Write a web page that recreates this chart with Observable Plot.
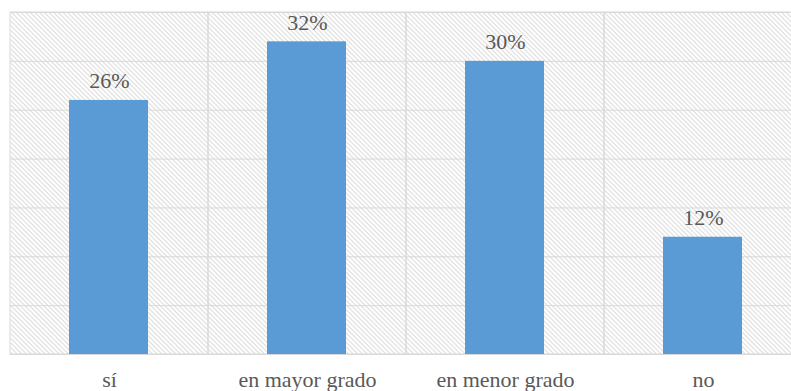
<!DOCTYPE html>
<html>
<head>
<meta charset="utf-8">
<script src="https://cdn.jsdelivr.net/npm/d3@7"></script>
<script src="https://cdn.jsdelivr.net/npm/@observablehq/plot@0.6"></script>
<style>
  html, body { margin: 0; padding: 0; background: #fff; overflow: hidden; }
  #chart svg { display: block; }
</style>
</head>
<body>
<div id="chart"></div>
<script>
// Respuestas por categoría (porcentaje)
const categories = ["sí", "en mayor grado", "en menor grado", "no"];
const values = [26, 32, 30, 12];
const yTicks = [0, 5, 10, 15, 20, 25, 30, 35];

const data = categories.map((c, i) => ({categoria: c, valor: values[i]}));

const chart = Plot.plot({
  width: 791,
  height: 391,
  marginTop: 12,
  marginBottom: 37,
  marginLeft: 10,
  marginRight: 0,
  style: {fontFamily: "'Liberation Serif', 'Times New Roman', serif", fontSize: "22px", color: "#595959", background: "#fff"},
  x: {domain: categories, range: [10, 802], padding: 0},
  y: {domain: [0, 35], axis: null},
  marks: [
    Plot.frame({fill: "url(#rayado)", stroke: null}),
    Plot.gridY(yTicks, {stroke: "#d9d9d9", strokeOpacity: 1, strokeWidth: 1}),
    Plot.cell(categories, {x: d => d, fill: "none", stroke: "#d9d9d9", strokeWidth: 1}),
    Plot.barY(data, {x: "categoria", y: "valor", fill: "#5B9BD5", insetLeft: 59, insetRight: 60}),
    Plot.text(data, {
      x: "categoria", y: "valor",
      text: d => `${d.valor}%`,
      lineAnchor: "bottom", dy: -12,
      fill: "#595959", fontSize: 22
    }),
    Plot.axisX({tickSize: 0, tickPadding: 17, fontSize: 22, fill: "#595959", label: null})
  ]
});

// Diagonal hatching for the plot background
chart.insertAdjacentHTML("afterbegin",
  `<defs>
     <pattern id="rayado" patternUnits="userSpaceOnUse" width="3.3" height="3.3" patternTransform="rotate(45)">
       <rect width="3.3" height="3.3" fill="#ffffff"></rect>
       <line x1="0" y1="0.6" x2="3.3" y2="0.6" stroke="#d9d9d9" stroke-width="1"></line>
     </pattern>
   </defs>`);

document.getElementById("chart").appendChild(chart);
</script>
</body>
</html>
